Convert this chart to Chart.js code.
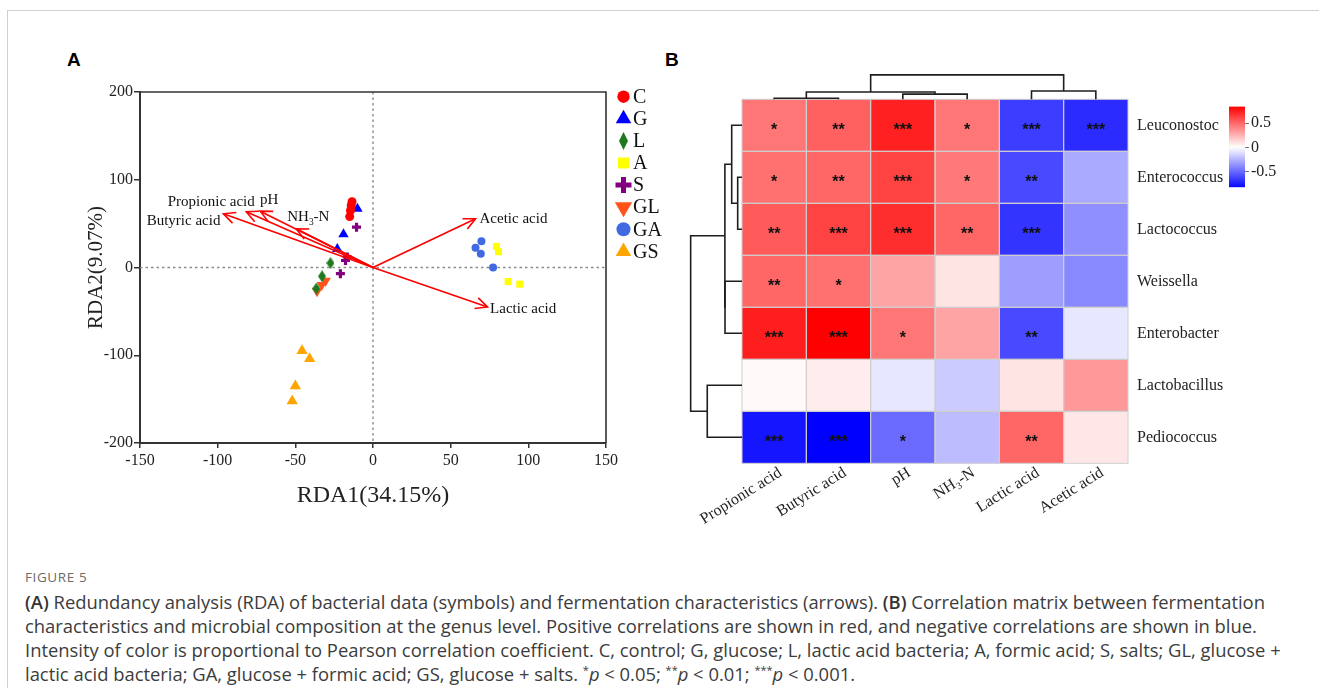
<!DOCTYPE html>
<html><head><meta charset="utf-8">
<script src="https://cdn.jsdelivr.net/npm/chart.js@4.4.1/dist/chart.umd.min.js"></script>
<style>
html,body{margin:0;padding:0;background:#fff;}
body{width:1319px;height:688px;position:relative;overflow:hidden;}
#frame{position:absolute;left:7px;top:10px;width:1320px;height:690px;border-top:1.5px solid #cfcfcf;border-left:1.5px solid #cfcfcf;}
canvas{position:absolute;}
.plab{position:absolute;font-family:"Liberation Sans",Arial,sans-serif;font-weight:bold;font-size:19px;line-height:22px;color:#000;}
.cap{position:absolute;left:25px;font-family:"Open Sans",sans-serif;font-size:18.4px;color:#3c3c3c;white-space:nowrap;line-height:24px;}
.cap b{font-weight:600;color:#333;}
.cap sup{font-size:11px;vertical-align:7px;line-height:0;}
#figno{position:absolute;left:25px;top:568px;font-family:"Open Sans",sans-serif;font-size:13.5px;color:#6b6b6b;letter-spacing:0.6px;}
</style>
</head>
<body>
<div id="frame"></div>
<div class="plab" style="left:67px;top:49px;">A</div>
<div class="plab" style="left:665px;top:49px;">B</div>
<canvas id="cA" width="665" height="520" style="left:0;top:0;"></canvas>
<canvas id="cB" width="600" height="545" style="left:665px;top:0;"></canvas>
<canvas id="cC" width="95" height="105" style="left:1215px;top:95px;"></canvas>
<div id="figno">FIGURE 5</div>
<div class="cap" style="top:590px;"><b>(A)</b> Redundancy analysis (RDA) of bacterial data (symbols) and fermentation characteristics (arrows). <b>(B)</b> Correlation matrix between fermentation</div>
<div class="cap" style="top:614px;">characteristics and microbial composition at the genus level. Positive correlations are shown in red, and negative correlations are shown in blue.</div>
<div class="cap" style="top:638px;">Intensity of color is proportional to Pearson correlation coefficient. C, control; G, glucose; L, lactic acid bacteria; A, formic acid; S, salts; GL, glucose +</div>
<div class="cap" style="top:662px;">lactic acid bacteria; GA, glucose + formic acid; GS, glucose + salts. <sup>*</sup><i>p</i> &lt; 0.05; <sup>**</sup><i>p</i> &lt; 0.01; <sup>***</sup><i>p</i> &lt; 0.001.</div>
<script>
// ===================== DATA =====================
// Panel A: RDA sample scores (RDA1, RDA2) per treatment group
const ptsC  = [[-15, 58], [-14.5, 65], [-14, 71], [-13.5, 75]];
const ptsG  = [[-10, 67], [-19, 38], [-23, 21]];
const ptsL  = [[-27.4, 5], [-32.8, -10], [-36.5, -24]];
const ptsA  = [[79.5, 24], [80.8, 18], [87, -16], [94.5, -19]];
const ptsS  = [[-10.6, 46], [-16.6, 12], [-17.7, 8], [-21, -7]];
const ptsGL = [[-30.5, -15], [-33, -20], [-36, -27]];
const ptsGA = [[69.8, 30], [66, 22.4], [69.4, 15.6], [77.3, 0]];
const ptsGS = [[-45.7, -95], [-40.8, -104], [-50, -135], [-52, -152]];
const groupNames = ['C', 'G', 'L', 'A', 'S', 'GL', 'GA', 'GS'];
const groupPoints = [ptsC, ptsG, ptsL, ptsA, ptsS, ptsGL, ptsGA, ptsGS];

// Panel A: environmental vectors (arrow tips)
const envNames = ['Butyric acid', 'Propionic acid', 'pH', 'NH3-N', 'Acetic acid', 'Lactic acid'];
const envX = [-96.3, -81.6, -72.6, -49.4, 66, 73.7];
const envY = [61.2, 63.5, 64.2, 44.1, 55.5, -45];

// Panel A axis ticks
const rdaXTicks = [-150, -100, -50, 0, 50, 100, 150];
const rdaYTicks = [-200, -100, 0, 100, 200];

// Panel B: correlation matrix
const traits = ['Propionic acid', 'Butyric acid', 'pH', 'NH\u2083-N', 'Lactic acid', 'Acetic acid'];
const genera = ['Leuconostoc', 'Enterococcus', 'Lactococcus', 'Weissella', 'Enterobacter', 'Lactobacillus', 'Pediococcus'];
const rLeuconostoc   = [0.45, 0.52, 0.73, 0.45, -0.64, -0.70];
const rEnterococcus  = [0.47, 0.50, 0.62, 0.44, -0.60, -0.28];
const rLactococcus   = [0.54, 0.62, 0.69, 0.50, -0.67, -0.37];
const rWeissella     = [0.50, 0.47, 0.30, 0.09, -0.32, -0.39];
const rEnterobacter  = [0.74, 0.84, 0.45, 0.30, -0.60, -0.08];
const rLactobacillus = [0.02, 0.06, -0.08, -0.17, 0.09, 0.34];
const rPediococcus   = [-0.77, -0.84, -0.49, -0.22, 0.50, 0.08];
const corrRows = [rLeuconostoc, rEnterococcus, rLactococcus, rWeissella, rEnterobacter, rLactobacillus, rPediococcus];
const sigLeuconostoc   = ['*', '**', '***', '*', '***', '***'];
const sigEnterococcus  = ['*', '**', '***', '*', '**', ''];
const sigLactococcus   = ['**', '***', '***', '**', '***', ''];
const sigWeissella     = ['**', '*', '', '', '', ''];
const sigEnterobacter  = ['***', '***', '*', '', '**', ''];
const sigLactobacillus = ['', '', '', '', '', ''];
const sigPediococcus   = ['***', '***', '*', '', '**', ''];
const sigRows = [sigLeuconostoc, sigEnterococcus, sigLactococcus, sigWeissella, sigEnterobacter, sigLactobacillus, sigPediococcus];

// Dendrograms: [childA, childB, mergeHeight] (children >= n are earlier merges)
const colMerges = [[0, 1, -0.52], [2, 3, -0.60], [6, 7, -0.64], [4, 5, -0.66], [8, 9, -0.97]];
const rowMerges = [[1, 2, -0.567], [0, 7, -0.66], [3, 4, -0.764], [8, 9, -0.766], [5, 6, -1.04], [10, 11, -1.298]];

// Colour bar
const cbMin = -0.82, cbMax = 0.84;
const cbTicks = [-0.5, 0, 0.5];

// ===================== STYLES =====================
const SERIF = '"Liberation Serif", "Times New Roman", serif';
const colorLimit = 0.84;
const colLabelShift = 0.1;
function heatColor(v) {
  const t = Math.max(-1, Math.min(1, v / colorLimit));
  if (t >= 0) { const g = Math.round(255 * (1 - t)); return `rgb(255,${g},${g})`; }
  const r = Math.round(255 * (1 + t)); return `rgb(${r},${r},255)`;
}
function diamondImg(w, h, color) {
  const c = document.createElement('canvas'); c.width = w; c.height = h;
  const g = c.getContext('2d'); g.fillStyle = color; g.beginPath();
  g.moveTo(w / 2, 0); g.lineTo(w, h / 2); g.lineTo(w / 2, h); g.lineTo(0, h / 2); g.closePath(); g.fill();
  return c;
}
const groupStyles = [
  {color: '#ff0000', style: 'circle', r: 4.5, rot: 0, bw: 0, lr: 6.2, lbw: 0},
  {color: '#0000ff', style: 'triangle', r: 6, rot: 0, bw: 0, lr: 9, lbw: 0},
  {color: '#1f7a1f', style: diamondImg(8, 12, '#1f7a1f'), r: 6, rot: 0, bw: 0, legend: diamondImg(9, 18, '#1f7a1f'), lr: 9, lbw: 0},
  {color: '#ffff00', style: 'rect', r: 5, rot: 0, bw: 0, lr: 7.8, lbw: 0},
  {color: '#800080', style: 'cross', r: 4.5, rot: 0, bw: 3.2, lr: 8, lbw: 5},
  {color: '#ff5319', style: 'triangle', r: 6, rot: 180, bw: 0, lr: 10, lbw: 0},
  {color: '#4169e1', style: 'circle', r: 4, rot: 0, bw: 0, lr: 7, lbw: 0},
  {color: '#ffa500', style: 'triangle', r: 6.5, rot: 0, bw: 0, lr: 9, lbw: 0}
];
// label placement relative to the arrow tip (px) and alignment
const envLabelPlace = [
  {dx: -3, dy: 7, align: 'right'},
  {dx: -35, dy: -10, align: 'center'},
  {dx: 9, dy: -11, align: 'center'},
  {dx: -9, dy: -11.5, align: 'left'},
  {dx: 4, dy: 0, align: 'left'},
  {dx: 2.6, dy: 1.6, align: 'left'}
];

// ===================== PANEL A =====================
const arrowDatasets = envNames.map((n, i) => ({
  label: n, isArrow: true, showLine: true,
  data: [{x: 0, y: 0}, {x: envX[i], y: envY[i]}],
  borderColor: '#ff0000', borderWidth: 1.6, pointRadius: 0, order: 0
}));
const groupDatasets = groupNames.map((g, i) => {
  const s = groupStyles[i];
  return {
    label: g, groupName: g, styleIdx: i,
    data: groupPoints[i].map(([x, y]) => ({x, y})),
    pointStyle: s.style, pointRadius: s.r, pointRotation: s.rot,
    backgroundColor: s.color, borderColor: s.color, borderWidth: s.bw, order: 1
  };
});

function drawRich(ctx, text, x, y, align, size) {
  const parts = [];
  const m = text.match(/^(NH)(3)(-N)$/);
  if (m) { parts.push([m[1], false], [m[2], true], [m[3], false]); } else parts.push([text, false]);
  const widths = parts.map(([t, sub]) => { ctx.font = (sub ? size * 0.62 : size) + 'px ' + SERIF; return ctx.measureText(t).width; });
  const total = widths.reduce((a, b) => a + b, 0);
  let cx = align === 'right' ? x - total : align === 'center' ? x - total / 2 : x;
  ctx.textAlign = 'left'; ctx.textBaseline = 'middle';
  parts.forEach(([t, sub], k) => {
    ctx.font = (sub ? size * 0.62 : size) + 'px ' + SERIF;
    ctx.fillText(t, cx, sub ? y + 5 : y);
    cx += widths[k];
  });
}

const framePlugin = {
  id: 'rdaFrame',
  beforeDatasetsDraw(chart) {
    const {ctx, chartArea: ca, scales: {x, y}} = chart;
    ctx.save();
    ctx.strokeStyle = '#8a8a8a'; ctx.lineWidth = 1.4; ctx.setLineDash([2.5, 3]);
    const x0 = x.getPixelForValue(0), y0 = y.getPixelForValue(0);
    ctx.beginPath(); ctx.moveTo(x0, ca.top); ctx.lineTo(x0, ca.bottom);
    ctx.moveTo(ca.left, y0); ctx.lineTo(ca.right, y0); ctx.stroke();
    ctx.restore();
  },
  afterDraw(chart) {
    const {ctx, chartArea: ca} = chart;
    ctx.save(); ctx.strokeStyle = '#333'; ctx.lineWidth = 1.6;
    ctx.beginPath(); ctx.moveTo(ca.left, ca.top); ctx.lineTo(ca.right, ca.top); ctx.lineTo(ca.right, ca.bottom); ctx.stroke();
    ctx.restore();
  }
};
const arrowPlugin = {
  id: 'rdaArrows',
  afterDatasetsDraw(chart) {
    const {ctx, scales: {x, y}} = chart;
    const ox = x.getPixelForValue(0), oy = y.getPixelForValue(0);
    envNames.forEach((n, i) => {
      const tx = x.getPixelForValue(envX[i]), ty = y.getPixelForValue(envY[i]);
      const a = Math.atan2(ty - oy, tx - ox), L = 13, h = 0.45;
      ctx.save(); ctx.strokeStyle = '#ff0000'; ctx.lineWidth = 1.6;
      ctx.beginPath();
      ctx.moveTo(tx - L * Math.cos(a - h), ty - L * Math.sin(a - h));
      ctx.lineTo(tx, ty);
      ctx.lineTo(tx - L * Math.cos(a + h), ty - L * Math.sin(a + h));
      ctx.stroke();
      ctx.fillStyle = '#111';
      const p = envLabelPlace[i];
      drawRich(ctx, n, tx + p.dx, ty + p.dy, p.align, 15);
      ctx.restore();
    });
  }
};
const legendPlugin = {
  id: 'rdaLegend',
  afterDraw(chart) {
    const {ctx, chartArea: ca} = chart;
    let i = 0;
    chart.data.datasets.forEach(ds => {
      if (!ds.groupName) return;
      const s = groupStyles[ds.styleIdx];
      const cy = ca.top + 4.7 + i * 22.1, cx = ca.right + 17.5;
      ctx.save();
      ctx.fillStyle = s.color; ctx.strokeStyle = s.color; ctx.lineWidth = s.lbw;
      Chart.helpers.drawPoint(ctx, {pointStyle: s.legend || s.style, rotation: s.rot, radius: s.lr, borderWidth: s.lbw}, cx, cy);
      ctx.fillStyle = '#111'; ctx.font = '20px ' + SERIF; ctx.textAlign = 'left'; ctx.textBaseline = 'middle';
      ctx.fillText(ds.groupName, cx + 9.5, cy + 1);
      ctx.restore();
      i++;
    });
  }
};

new Chart(document.getElementById('cA'), {
  type: 'scatter',
  data: {datasets: [...arrowDatasets, ...groupDatasets]},
  options: {
    responsive: false, animation: false, devicePixelRatio: 1,
    layout: {padding: {left: 80, top: 92, right: 59, bottom: 6}},
    plugins: {legend: {display: false}, tooltip: {enabled: false}},
    scales: {
      x: {
        type: 'linear', min: rdaXTicks[0], max: rdaXTicks[rdaXTicks.length - 1],
        afterBuildTicks: s => { s.ticks = rdaXTicks.map(v => ({value: v})); },
        ticks: {font: {family: SERIF, size: 16}, color: '#222', padding: 3},
        grid: {drawOnChartArea: false, drawTicks: true, tickLength: 5, color: '#333', lineWidth: 1.5},
        border: {display: true, color: '#333', width: 2},
        title: {display: true, text: 'RDA1(34.15%)', font: {family: SERIF, size: 24}, color: '#222', padding: {top: 4, bottom: 4}},
        afterFit: s => { s.height = 71; }
      },
      y: {
        type: 'linear', min: rdaYTicks[0], max: rdaYTicks[rdaYTicks.length - 1],
        afterBuildTicks: s => { s.ticks = rdaYTicks.map(v => ({value: v})); },
        ticks: {font: {family: SERIF, size: 16}, color: '#222', padding: 1},
        grid: {drawOnChartArea: false, drawTicks: true, tickLength: 6, color: '#333', lineWidth: 1.5},
        border: {display: true, color: '#333', width: 2},
        title: {display: true, text: 'RDA2(9.07%)', font: {family: SERIF, size: 21}, color: '#222', padding: {top: 4, bottom: 4}},
        afterFit: s => { s.width = 60; }
      }
    }
  },
  plugins: [framePlugin, arrowPlugin, legendPlugin]
});

// ===================== PANEL B =====================
function buildTree(merges, n) {
  const pos = [], h = [];
  for (let i = 0; i < n; i++) { pos.push(i); h.push(-0.5); }
  const segs = [];
  merges.forEach(([a, b, hh]) => {
    segs.push([[pos[a], h[a]], [pos[a], hh], [pos[b], hh], [pos[b], h[b]]]);
    pos.push((pos[a] + pos[b]) / 2); h.push(hh);
  });
  return segs;
}
const dendroStyle = {showLine: true, borderColor: '#1e1e1e', borderWidth: 1.6, pointRadius: 0, clip: false};
const colSegs = buildTree(colMerges, traits.length).map(seg => ({...dendroStyle, data: seg.map(([p, hh]) => ({x: p, y: hh}))}));
const rowSegs = buildTree(rowMerges, genera.length).map(seg => ({...dendroStyle, data: seg.map(([p, hh]) => ({x: hh, y: p}))}));

const heatPlugin = {
  id: 'heat',
  beforeDatasetsDraw(chart) {
    const {ctx, scales: {x, y}} = chart;
    ctx.save();
    corrRows.forEach((row, r) => {
      row.forEach((v, c) => {
        const x0 = x.getPixelForValue(c - 0.5), x1 = x.getPixelForValue(c + 0.5);
        const y0 = y.getPixelForValue(r - 0.5), y1 = y.getPixelForValue(r + 0.5);
        ctx.fillStyle = heatColor(v);
        ctx.fillRect(x0, y0, x1 - x0, y1 - y0);
      });
    });
    ctx.strokeStyle = '#cfcfcf'; ctx.lineWidth = 1;
    corrRows.forEach((row, r) => {
      row.forEach((v, c) => {
        const x0 = x.getPixelForValue(c - 0.5), x1 = x.getPixelForValue(c + 0.5);
        const y0 = y.getPixelForValue(r - 0.5), y1 = y.getPixelForValue(r + 0.5);
        ctx.strokeRect(x0, y0, x1 - x0, y1 - y0);
      });
    });
    ctx.fillStyle = '#111'; ctx.font = 'bold 16px "Liberation Sans", Arial, sans-serif';
    ctx.textAlign = 'center'; ctx.textBaseline = 'alphabetic';
    sigRows.forEach((row, r) => {
      row.forEach((s, c) => {
        if (!s) return;
        ctx.fillText(s, x.getPixelForValue(c), y.getPixelForValue(r) + 9.5);
      });
    });
    ctx.restore();
  }
};

new Chart(document.getElementById('cB'), {
  type: 'scatter',
  data: {datasets: [...colSegs, ...rowSegs]},
  options: {
    responsive: false, animation: false, devicePixelRatio: 1,
    layout: {padding: {left: 19.1, top: 68.1, right: 0, bottom: 0}},
    plugins: {legend: {display: false}, tooltip: {enabled: false}},
    scales: {
      x: {
        type: 'linear', min: -1.4, max: 5.5,
        afterBuildTicks: s => { s.ticks = traits.map((t, i) => ({value: i + colLabelShift})); },
        ticks: {autoSkip: false, minRotation: 32, maxRotation: 32, font: {family: SERIF, size: 16}, color: '#222', padding: -8,
                callback: v => traits[Math.round(v - colLabelShift)]},
        grid: {display: false}, border: {display: false},
        afterFit: s => { s.height = 81.7; }
      },
      y: {
        type: 'linear', position: 'right', reverse: true, min: -1.1, max: 6.5,
        afterBuildTicks: s => { s.ticks = genera.map((g, i) => ({value: i})); },
        ticks: {autoSkip: false, font: {family: SERIF, size: 16}, color: '#222', padding: 1,
                callback: v => genera[v]},
        grid: {display: false}, border: {display: false},
        afterFit: s => { s.width = 137; }
      }
    }
  },
  plugins: [heatPlugin]
});

// ===================== COLOUR BAR =====================
new Chart(document.getElementById('cC'), {
  type: 'bar',
  data: {labels: [''], datasets: [{
    data: [[cbMin, cbMax]], borderWidth: 0, barPercentage: 1, categoryPercentage: 1,
    backgroundColor: (c) => {
      const ch = c.chart, ca = ch.chartArea;
      if (!ca) return '#fff';
      const ys = ch.scales.y;
      const g = ch.ctx.createLinearGradient(0, ys.getPixelForValue(cbMax), 0, ys.getPixelForValue(cbMin));
      for (let k = 0; k <= 20; k++) { const v = cbMax - k * (cbMax - cbMin) / 20; g.addColorStop(k / 20, heatColor(v)); }
      return g;
    }
  }]},
  options: {
    responsive: false, animation: false, devicePixelRatio: 1,
    layout: {padding: {left: 14, top: 10.7, bottom: 12.7, right: 0}},
    plugins: {legend: {display: false}, tooltip: {enabled: false}},
    scales: {
      x: {display: false},
      y: {
        position: 'right', min: cbMin, max: cbMax,
        afterBuildTicks: s => { s.ticks = cbTicks.map(v => ({value: v})); },
        ticks: {font: {family: SERIF, size: 16}, color: '#222', padding: 2, callback: v => String(v)},
        grid: {drawOnChartArea: false, drawTicks: true, tickLength: 4, color: '#777'},
        border: {display: false},
        afterFit: s => { s.width = 65; }
      }
    }
  }
});
</script>
</body></html>
